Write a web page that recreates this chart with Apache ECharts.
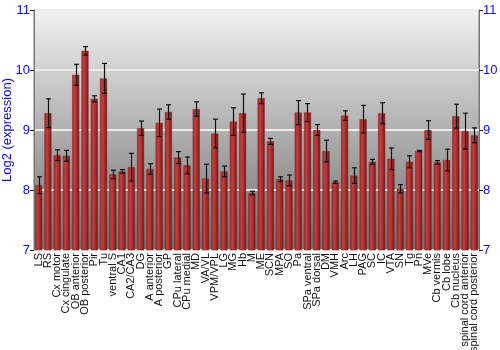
<!DOCTYPE html>
<html><head><meta charset="utf-8">
<script src="https://cdn.jsdelivr.net/npm/echarts@6/dist/echarts.min.js"></script>
<style>html,body{margin:0;padding:0;background:#fff}#c{width:500px;height:350px}</style>
</head><body><div id="c"></div>
<script>
var categories = ["LS","RS","Cx motor","Cx cingulate","OB anterior","OB posterior","Pir","Tu","ventral S","CA1","CA2/CA3","DG","A anterior","A posterior","GP","CPu lateral","CPu medial","MD","VA/VL","VPM/VPL","LG","MG","Hb","M","ME","SCN","MPA","SO","Pa","SPa ventral","SPa dorsal","DM","VMH","Arc","LH","PAG","SC","IC","VTA","SN","Tg","Pn","MVe","Cb vermis","Cb lobe","Cb nucleus","spinal cord anterior","spinal cord posterior"];
var values = [8.08,9.28,8.58,8.57,9.92,10.32,9.52,9.86,8.26,8.31,8.38,9.03,8.35,9.12,9.30,8.54,8.41,9.35,8.19,8.94,8.31,9.14,9.28,7.95,9.53,8.81,8.18,8.16,9.29,9.29,9.00,8.65,8.13,9.24,8.24,9.18,8.47,9.28,8.52,8.02,8.47,8.65,9.00,8.46,8.50,9.23,8.98,8.91];
var errors = [0.14,0.24,0.09,0.09,0.175,0.07,0.05,0.25,0.07,0.03,0.23,0.12,0.09,0.23,0.12,0.10,0.14,0.12,0.24,0.24,0.09,0.23,0.32,0.03,0.09,0.05,0.04,0.09,0.20,0.15,0.09,0.18,0.02,0.08,0.13,0.23,0.04,0.175,0.18,0.07,0.10,0.01,0.155,0.03,0.18,0.20,0.30,0.125];
var yTicks = [7,8,9,10,11];

var errData = values.map(function(v,i){return [i, v-errors[i], v+errors[i]];});
var chart = echarts.init(document.getElementById('c'), null, {renderer:'canvas'});
var blue = '#0a0aff';
chart.setOption({
  animation:false,
  grid:{left:34,right:21,top:10,bottom:100,show:true,borderColor:'#777',borderWidth:1,
    containLabel:false,outerBoundsMode:'none',
    backgroundColor:new echarts.graphic.LinearGradient(0,0,0,1,[{offset:0,color:'#f2f2f2'},{offset:1,color:'#6e6e6e'}])},
  xAxis:{type:'category',data:categories,
    axisLine:{show:false},axisTick:{show:false},
    axisLabel:{rotate:90,interval:0,fontSize:11,color:'#111',fontFamily:'Liberation Sans',margin:3}},
  yAxis:[{type:'value',min:7,max:11,interval:1,position:'left',
    name:'Log2 (expression)',nameLocation:'middle',nameGap:20,nameMoveOverlap:false,
    nameTextStyle:{color:blue,fontSize:13,fontFamily:'Liberation Sans'},
    axisLine:{show:true,lineStyle:{color:'#777'}},axisTick:{show:true,length:4,lineStyle:{color:'#222'}},
    axisLabel:{color:blue,fontSize:13,fontFamily:'Liberation Sans',margin:4},
    splitLine:{show:true,lineStyle:{color:'#ececec',width:2}}},
   {type:'value',min:7,max:11,interval:1,position:'right',
    axisLine:{show:true,lineStyle:{color:'#777'}},axisTick:{show:true,length:4,lineStyle:{color:'#222'}},
    axisLabel:{color:blue,fontSize:13,fontFamily:'Liberation Sans',margin:4},
    splitLine:{show:false}}],
  series:[{type:'bar',data:values,barCategoryGap:'24%',
    itemStyle:{color:new echarts.graphic.LinearGradient(0,0,1,0,[{offset:0,color:'#9a2626'},{offset:0.35,color:'#c04040'},{offset:0.7,color:'#a02828'},{offset:1,color:'#6a1414'}]),
      borderColor:'#8a2020',borderWidth:0.5}},
   {type:'custom',data:errData,z:10,
    renderItem:function(params,api){
      var x=api.value(0);
      var lo=api.coord([x,api.value(1)]);
      var hi=api.coord([x,api.value(2)]);
      var cx=Math.round(lo[0])+0.5;var w=2.5;
      var st={stroke:'#111',lineWidth:1.2};
      return {type:'group',children:[
        {type:'line',shape:{x1:cx,y1:lo[1],x2:cx,y2:hi[1]},style:st},
        {type:'line',shape:{x1:cx-w,y1:lo[1],x2:cx+w,y2:lo[1]},style:st},
        {type:'line',shape:{x1:cx-w,y1:hi[1],x2:cx+w,y2:hi[1]},style:st}]};
    }}]
});
</script></body></html>
